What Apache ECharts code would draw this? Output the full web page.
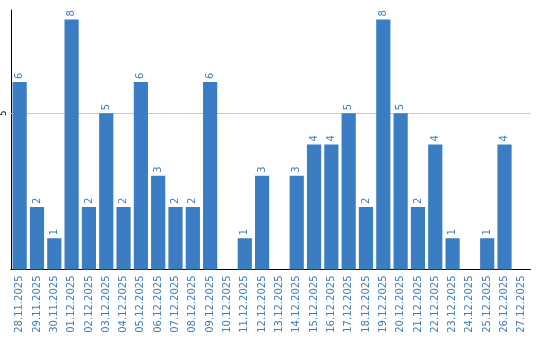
<!DOCTYPE html>
<html><head><meta charset="utf-8">
<script src="https://cdn.jsdelivr.net/npm/echarts@6/dist/echarts.min.js"></script>
<style>html,body{margin:0;padding:0;background:#fff}#c{width:540px;height:340px}</style>
</head><body><div id="c"></div>
<script>
const categories = ["28.11.2025","29.11.2025","30.11.2025","01.12.2025","02.12.2025","03.12.2025","04.12.2025","05.12.2025","06.12.2025","07.12.2025","08.12.2025","09.12.2025","10.12.2025","11.12.2025","12.12.2025","13.12.2025","14.12.2025","15.12.2025","16.12.2025","17.12.2025","18.12.2025","19.12.2025","20.12.2025","21.12.2025","22.12.2025","23.12.2025","24.12.2025","25.12.2025","26.12.2025","27.12.2025"];
const values = [6,2,1,8,2,5,2,6,3,2,2,6,0,1,3,0,3,4,4,5,2,8,5,2,4,1,0,1,4,0];
const yTicks = [5];
const color = '#3b7dc2';
const chart = echarts.init(document.getElementById('c'), null, {renderer:'canvas'});
chart.setOption({
  animation: false,
  grid: {left: 10.5, right: 9.5, top: 10, bottom: 70.5},
  xAxis: {
    type: 'category', data: categories,
    axisLine: {lineStyle: {color: '#000', width: 1}},
    axisTick: {show: false},
    axisLabel: {rotate: 90, interval: 0, margin: 6, color: color, fontFamily: 'DejaVu Sans', fontSize: 10}
  },
  yAxis: {
    type: 'value', min: 0, max: 8.3, interval: 5,
    axisLine: {show: true, lineStyle: {color: '#000', width: 1}},
    axisTick: {show: false},
    splitLine: {show: false},
    axisLabel: {
      showMinLabel: false, showMaxLabel: false, rotate: 90, margin: 3,
      color: '#000', fontFamily: 'DejaVu Sans', fontSize: 8,
      formatter: v => yTicks.includes(v) ? String(v) : ''
    }
  },
  series: [{
    type: 'bar', data: values.map(v => v === 0 ? null : v),
    barCategoryGap: '18%',
    itemStyle: {color: color},
    z: 3,
    label: {show: true, position: 'top', rotate: 90, align: 'left', verticalAlign: 'middle', distance: 3,
      color: color, fontFamily: 'DejaVu Sans', fontSize: 10},
    markLine: {
      silent: true, symbol: 'none', z: 1,
      label: {show: false},
      lineStyle: {color: '#c8c8c8', type: 'solid', width: 1},
      data: yTicks.map(t => ({yAxis: t}))
    }
  }]
});
</script></body></html>
